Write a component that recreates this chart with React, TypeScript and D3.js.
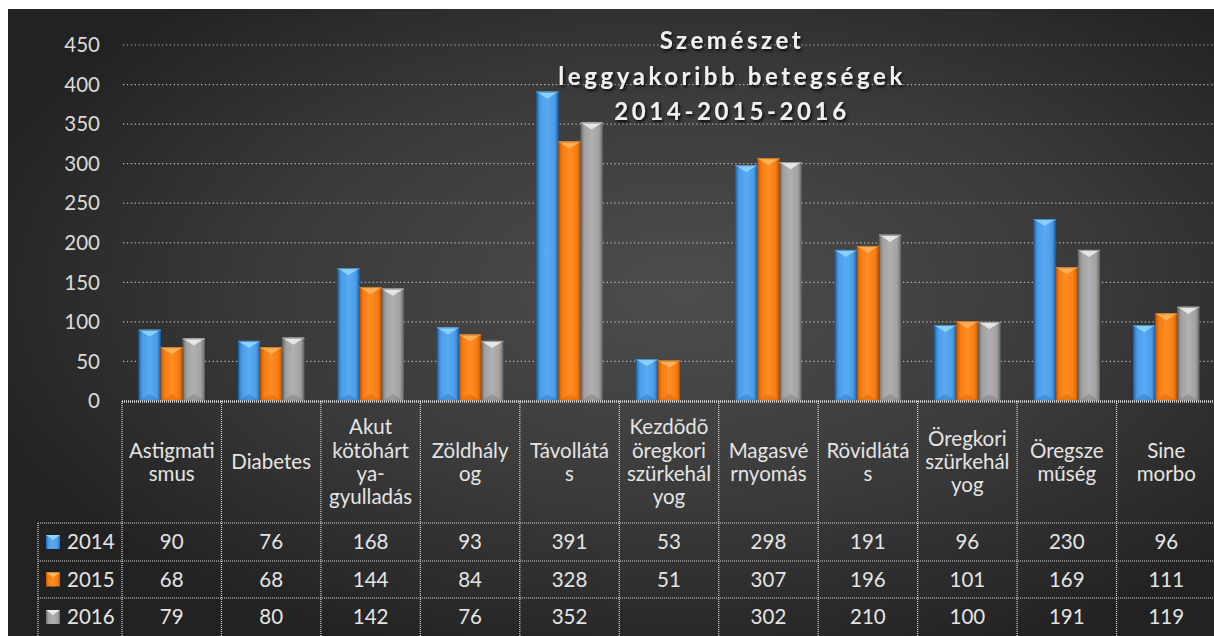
import React from "react";
import * as d3 from "d3";

const categories = [
  "Astigmatismus",
  "Diabetes",
  "Akut kötõhártya-gyulladás",
  "Zöldhályog",
  "Távollátás",
  "Kezdõdõ öregkori szürkehályog",
  "Magasvérnyomás",
  "Rövidlátás",
  "Öregkori szürkehályog",
  "Öregszeműség",
  "Sine morbo",
];
const categoryLines = [
  ["Astigmati", "smus"],
  ["Diabetes"],
  ["Akut", "kötõhárt", "ya-", "gyulladás"],
  ["Zöldhály", "og"],
  ["Távollátá", "s"],
  ["Kezdõdõ", "öregkori", "szürkehál", "yog"],
  ["Magasvé", "rnyomás"],
  ["Rövidlátá", "s"],
  ["Öregkori", "szürkehál", "yog"],
  ["Öregsze", "műség"],
  ["Sine", "morbo"],
];
const seriesNames = ["2014", "2015", "2016"];
const values2014 = [90, 76, 168, 93, 391, 53, 298, 191, 96, 230, 96];
const values2015 = [68, 68, 144, 84, 328, 51, 307, 196, 101, 169, 111];
const values2016: (number | null)[] = [79, 80, 142, 76, 352, null, 302, 210, 100, 191, 119];
const yTicks = [0, 50, 100, 150, 200, 250, 300, 350, 400, 450];
const titleLines = ["Szemészet", "leggyakoribb betegségek", "2014-2015-2016"];

const seriesValues = [values2014, values2015, values2016];

const palette = [
  { id: "b", dark: "#2468b0", mid: "#4a9de8", light: "#5aaaf2", tri: "#8ed6ff", edge: "#1d5595" },
  { id: "o", dark: "#c85a00", mid: "#f77d12", light: "#ff8d24", tri: "#ffb45e", edge: "#a84b00" },
  { id: "g", dark: "#6e6e6e", mid: "#a2a2a2", light: "#b0b0b0", tri: "#ececec", edge: "#5e5e5e" },
];

const FONT = "Lato, 'Noto Sans', sans-serif";
const FS = 20.5;

export default function App() {
  const W = 1214;
  const H = 636;
  const plotLeft = 122;
  const plotRight = 1216;
  const y0 = 401;
  const yTop = 45;
  const headerBottom = 523;
  const rowBounds = [523, 561, 598, 636];
  const legendLeft = 38;

  const x = d3.scaleBand<string>().domain(categories).range([plotLeft, plotRight]).paddingInner(0).paddingOuter(0);
  const xs = d3.scaleBand<string>().domain(seriesNames).range([0, x.bandwidth()]).paddingInner(0).paddingOuter(0.75);
  const y = d3.scaleLinear().domain([0, 450]).range([y0, yTop]);

  const bw = xs.bandwidth();

  const bar = (sx: number, val: number, si: number, key: string) => {
    const top = y(val);
    const h = y0 - top;
    const p = palette[si];
    const bev = Math.min(bw * 0.32, h / 2);
    return (
      <g key={key}>
        <rect x={sx} y={top} width={bw} height={h} fill={`url(#grad-${p.id})`} />
        <polygon
          points={`${sx},${top} ${sx + bw},${top} ${sx + bw / 2},${top + bev}`}
          fill={p.tri}
          opacity={0.9}
        />
        <rect x={sx} y={top} width={bw} height={1.2} fill={p.tri} opacity={0.8} />
        <polygon
          points={`${sx},${y0} ${sx + bw},${y0} ${sx + bw / 2},${y0 - bev}`}
          fill={p.dark}
          opacity={0.35}
        />
        <rect x={sx + 0.5} y={top + 0.5} width={bw - 1} height={h - 1} fill="none" stroke={p.edge} strokeWidth={1} opacity={0.6} />
      </g>
    );
  };

  const colEdges = categories.map((c) => x(c) as number).concat([plotRight]);

  return (
    <svg
      width={W}
      height={H}
      style={{ position: "absolute", left: 0, top: 0, display: "block" }}
      xmlns="http://www.w3.org/2000/svg"
    >
      <defs>
        <radialGradient id="bg" cx="56%" cy="45%" r="62%">
          <stop offset="0%" stopColor="#4d4d4d" />
          <stop offset="55%" stopColor="#3a3a3a" />
          <stop offset="100%" stopColor="#222222" />
        </radialGradient>
        {palette.map((p) => (
          <linearGradient key={p.id} id={`grad-${p.id}`} x1="0" x2="1" y1="0" y2="0">
            <stop offset="0%" stopColor={p.dark} />
            <stop offset="18%" stopColor={p.mid} />
            <stop offset="50%" stopColor={p.light} />
            <stop offset="82%" stopColor={p.mid} />
            <stop offset="100%" stopColor={p.dark} />
          </linearGradient>
        ))}
        <filter id="tshadow" x="-10%" y="-30%" width="120%" height="160%">
          <feDropShadow dx="1.5" dy="2" stdDeviation="1.5" floodColor="#000" floodOpacity="0.85" />
        </filter>
      </defs>
      <rect x={0} y={0} width={W} height={H} fill="#ffffff" />
      <rect x={8} y={9} width={W - 8} height={H - 9} fill="url(#bg)" />

      {/* gridlines */}
      {yTicks.filter((t) => t > 0).map((t) => (
        <line
          key={`g${t}`}
          x1={plotLeft + 1}
          x2={W}
          y1={y(t)}
          y2={y(t)}
          stroke="#c8c8c8"
          strokeWidth={1.2}
          strokeDasharray="1.3 2.6"
          opacity={0.85}
        />
      ))}

      {/* y labels */}
      {yTicks.map((t) => (
        <text
          key={`y${t}`}
          x={100}
          y={y(t)}
          dy="0.35em"
          textAnchor="end"
          fontFamily={FONT}
          fontSize={FS}
          fill="#dadada"
        >
          {t}
        </text>
      ))}

      {/* bars */}
      {categories.map((c, ci) =>
        seriesNames.map((s, si) => {
          const v = seriesValues[si][ci];
          if (v == null) return null;
          return bar((x(c) as number) + (xs(s) as number), v, si, `${ci}-${si}`);
        })
      )}

      {/* title */}
      <g filter="url(#tshadow)">
        {titleLines.map((t, i) => (
          <text
            key={`t${i}`}
            x={732}
            y={49 + i * 35.5}
            textAnchor="middle"
            fontFamily={FONT}
            fontWeight={700}
            fontSize={24}
            letterSpacing={3.6}
            fill="#f0f0f0"
          >
            {t}
          </text>
        ))}
      </g>

      {/* table */}
      <g stroke="#d8d8d8" fill="none">
        <line x1={plotLeft} x2={W} y1={y0 + 0.5} y2={y0 + 0.5} strokeWidth={2.5} strokeDasharray="1 1" />
        {rowBounds.slice(0, 3).map((rb, i) => (
          <line key={`h${i}`} x1={legendLeft} x2={W} y1={rb} y2={rb} strokeWidth={1.2} strokeDasharray="1 1" />
        ))}
        <line x1={legendLeft} x2={legendLeft} y1={headerBottom} y2={H} strokeWidth={1.2} strokeDasharray="1 1" />
        {colEdges.map((ce, i) => (
          <line key={`v${i}`} x1={ce} x2={ce} y1={y0} y2={H} strokeWidth={1.2} strokeDasharray="1 1" />
        ))}
      </g>

      {/* header labels */}
      {categories.map((c, ci) => {
        const lines = categoryLines[ci];
        const lh = 23.3;
        const cy = (y0 + headerBottom) / 2;
        const startY = cy - ((lines.length - 1) * lh) / 2;
        return (
          <text
            key={`c${ci}`}
            x={(x(c) as number) + x.bandwidth() / 2}
            textAnchor="middle"
            fontFamily={FONT}
            fontSize={FS}
            fill="#e4e4e4"
          >
            {lines.map((ln, li) => (
              <tspan key={li} x={(x(c) as number) + x.bandwidth() / 2} y={startY + li * lh} dy="0.35em">
                {ln}
              </tspan>
            ))}
          </text>
        );
      })}

      {/* data rows */}
      {seriesNames.map((s, si) => {
        const top = rowBounds[si];
        const bot = rowBounds[si + 1];
        const cy = (top + bot) / 2;
        const p = palette[si];
        return (
          <g key={`r${si}`}>
            <rect x={46} y={cy - 7} width={14} height={14} fill={`url(#grad-${p.id})`} />
            <polygon points={`${46},${cy - 7} ${60},${cy - 7} ${53},${cy - 2}`} fill={p.tri} />
            <text x={67} y={cy} dy="0.35em" fontFamily={FONT} fontSize={FS} fill="#e4e4e4">
              {s}
            </text>
            {categories.map((c, ci) => {
              const v = seriesValues[si][ci];
              if (v == null) return null;
              return (
                <text
                  key={`v${ci}`}
                  x={(x(c) as number) + x.bandwidth() / 2}
                  y={cy}
                  dy="0.35em"
                  textAnchor="middle"
                  fontFamily={FONT}
                  fontSize={FS}
                  fill="#e4e4e4"
                >
                  {v}
                </text>
              );
            })}
          </g>
        );
      })}
    </svg>
  );
}
